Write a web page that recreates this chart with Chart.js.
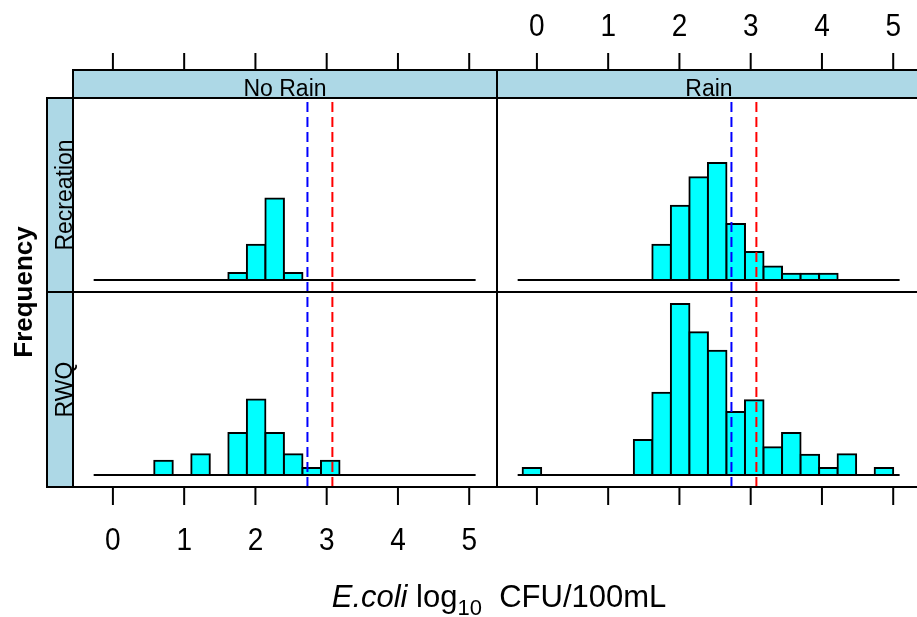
<!DOCTYPE html>
<html>
<head>
<meta charset="utf-8">
<script src="https://cdn.jsdelivr.net/npm/chart.js@4.4.0/dist/chart.umd.min.js"></script>
<style>
  body { margin: 0; background: #fff; }
  #wrap { position: relative; width: 917px; height: 617px; overflow: hidden; }
  #wrap canvas { position: absolute; left: 0; top: 0; }
</style>
</head>
<body>
<div id="wrap">
  <canvas id="p00" width="930" height="617"></canvas>
  <canvas id="p01" width="930" height="617"></canvas>
  <canvas id="p10" width="930" height="617"></canvas>
  <canvas id="p11" width="930" height="617"></canvas>
</div>
<script>
// histogram breaks (log10 CFU/100mL), shared by every panel
const breaks = [-0.20, 0.06, 0.32, 0.58, 0.84, 1.10, 1.36, 1.62, 1.88, 2.14, 2.40,
                2.66, 2.92, 3.18, 3.44, 3.70, 3.96, 4.22, 4.48, 4.74, 5.00];

// counts per bin
const noRainRecreation = [0, 0, 0, 0, 0, 0, 0, 1.0, 5.0, 11.5, 1.0, 0, 0, 0, 0, 0, 0, 0, 0, 0];
const rainRecreation   = [0, 0, 0, 0, 0, 0, 0, 5.0, 10.5, 14.5, 16.5, 7.9, 3.95, 1.9, 0.9, 0.9, 0.9, 0, 0, 0];
const noRainRWQ        = [0, 0, 0, 2.0, 0, 2.9, 0, 5.9, 10.6, 5.9, 2.9, 1.0, 2.0, 0, 0, 0, 0, 0, 0, 0];
const rainRWQ          = [1.0, 0, 0, 0, 0, 0, 4.9, 11.55, 24.0, 20.05, 17.45, 8.85, 10.5, 3.9, 5.9, 2.85, 1.0, 2.9, 0, 1.0];

const conditions = ['No Rain', 'Rain'];
const groups = ['Recreation', 'RWQ'];
const xTicks = [0, 1, 2, 3, 4, 5];
const baselineRange = [-0.27, 5.09];
const blueRef = 2.73;
const redRef = 3.08;
const axisTitle = ['E.coli', ' log', '10', '  CFU/100mL'];

// panel layout
const colX = [73, 497];
const colW = 424;
const rowY = [98, 292];
const rowH = [194, 195];
const CW = 930, CH = 617;
const stripH = 28, stripW = 26, tickLen = 17;
const FONT = '"Liberation Sans", Arial, sans-serif';

const xMin = -0.56, xMax = 5.39;
const countMax = Math.max(...noRainRecreation, ...rainRecreation, ...noRainRWQ, ...rainRWQ);
const yLo = -0.07 * countMax, yHi = 1.07 * countMax;

function binPoints(counts) {
    let pts = [];
    counts.forEach(function (c, i) {
        if (c > 0) pts.push({x: (breaks[i] + breaks[i + 1]) / 2, y: c});
    });
    return pts;
}

// tick numbers are a little taller than wide
function tallText(ctx, text, x, y) {
    ctx.save();
    ctx.translate(x, y);
    ctx.scale(1, 1.15);
    ctx.fillText(text, 0, 0);
    ctx.restore();
}

function drawTitles(ctx) {
    ctx.fillStyle = '#000';
    ctx.save();
    ctx.translate(32, 292);
    ctx.rotate(-Math.PI / 2);
    ctx.font = 'bold 26px ' + FONT;
    ctx.textAlign = 'center';
    ctx.fillText('Frequency', 0, 0);
    ctx.restore();

    const fonts = ['italic 31px ' + FONT, '31px ' + FONT, '22px ' + FONT, '31px ' + FONT];
    const shifts = [0, 0, 8, 0];
    let total = 0;
    axisTitle.forEach(function (t, i) {
        ctx.font = fonts[i];
        total += ctx.measureText(t).width;
    });
    let x = (colX[0] + colX[1] + colW) / 2 - total / 2 + 2;
    ctx.textAlign = 'left';
    axisTitle.forEach(function (t, i) {
        ctx.font = fonts[i];
        ctx.fillText(t, x, 607 + shifts[i]);
        x += ctx.measureText(t).width;
    });
}

// panel box, strips, tick marks and labels around each panel
const panelFrame = {
    id: 'panelFrame',
    afterDraw(chart, args, opts) {
        const ctx = chart.ctx;
        const a = chart.chartArea;
        const xs = chart.scales.x;
        const row = opts.row, col = opts.col;
        ctx.save();
        ctx.lineWidth = 2;
        ctx.strokeStyle = '#000';
        ctx.fillStyle = '#000';

        if (row === 0) {
            const st = a.top - stripH;
            ctx.fillStyle = '#ADD8E6';
            ctx.fillRect(a.left, st, a.right - a.left, stripH);
            ctx.strokeRect(a.left, st, a.right - a.left, stripH);
            ctx.fillStyle = '#000';
            ctx.font = '23px ' + FONT;
            ctx.textAlign = 'center';
            ctx.fillText(conditions[col], (a.left + a.right) / 2, a.top - 2.5);
            ctx.font = '28px ' + FONT;
            xTicks.forEach(function (v) {
                const px = xs.getPixelForValue(v);
                ctx.beginPath();
                ctx.moveTo(px, st);
                ctx.lineTo(px, st - tickLen);
                ctx.stroke();
                if (col === 1) tallText(ctx, String(v), px, st - tickLen - 17);
            });
        } else {
            ctx.font = '28px ' + FONT;
            ctx.textAlign = 'center';
            xTicks.forEach(function (v) {
                const px = xs.getPixelForValue(v);
                ctx.beginPath();
                ctx.moveTo(px, a.bottom);
                ctx.lineTo(px, a.bottom + tickLen + 1);
                ctx.stroke();
                if (col === 0) tallText(ctx, String(v), px, a.bottom + 63);
            });
        }

        if (col === 0) {
            ctx.fillStyle = '#ADD8E6';
            ctx.fillRect(a.left - stripW, a.top, stripW, a.bottom - a.top);
            ctx.strokeRect(a.left - stripW, a.top, stripW, a.bottom - a.top);
            ctx.fillStyle = '#000';
            ctx.save();
            ctx.translate(a.left - 1.5, (a.top + a.bottom) / 2);
            ctx.rotate(-Math.PI / 2);
            ctx.font = '23px ' + FONT;
            ctx.textAlign = 'center';
            ctx.fillText(groups[row], 0, 0);
            ctx.restore();
        }

        ctx.strokeRect(a.left, a.top, a.right - a.left, a.bottom - a.top);
        if (opts.titles) drawTitles(ctx);
        ctx.restore();
    }
};

function refLine(x, color) {
    return {
        type: 'line',
        data: [{x: x, y: yLo}, {x: x, y: yHi}],
        borderColor: color,
        borderWidth: 2,
        borderDash: [10, 5],
        pointRadius: 0,
        order: 1
    };
}

function makePanel(id, row, col, counts) {
    const ctx = document.getElementById(id);
    return new Chart(ctx, {
        type: 'bar',
        data: {
            datasets: [{
                type: 'bar',
                data: binPoints(counts),
                backgroundColor: '#00FFFF',
                borderColor: '#000',
                borderWidth: 2,
                borderSkipped: false,
                inflateAmount: 1,
                barPercentage: 1,
                categoryPercentage: 1,
                order: 3
            }, {
                type: 'line',
                data: [{x: baselineRange[0], y: 0}, {x: baselineRange[1], y: 0}],
                borderColor: '#000',
                borderWidth: 2,
                pointRadius: 0,
                order: 2
            },
            refLine(blueRef, '#0000FF'),
            refLine(redRef, '#FF0000')]
        },
        options: {
            responsive: false,
            animation: false,
            events: [],
            layout: {
                padding: {
                    left: colX[col],
                    top: rowY[row],
                    right: CW - colX[col] - colW,
                    bottom: CH - rowY[row] - rowH[row]
                }
            },
            scales: {
                x: {type: 'linear', min: xMin, max: xMax, offset: false, display: false, ticks: {stepSize: 1}},
                y: {type: 'linear', min: yLo, max: yHi, display: false}
            },
            plugins: {
                legend: {display: false},
                tooltip: {enabled: false},
                panelFrame: {row: row, col: col, titles: row === 1 && col === 0}
            }
        },
        plugins: [panelFrame]
    });
}

makePanel('p00', 0, 0, noRainRecreation);
makePanel('p01', 0, 1, rainRecreation);
makePanel('p10', 1, 0, noRainRWQ);
makePanel('p11', 1, 1, rainRWQ);
</script>
</body>
</html>
